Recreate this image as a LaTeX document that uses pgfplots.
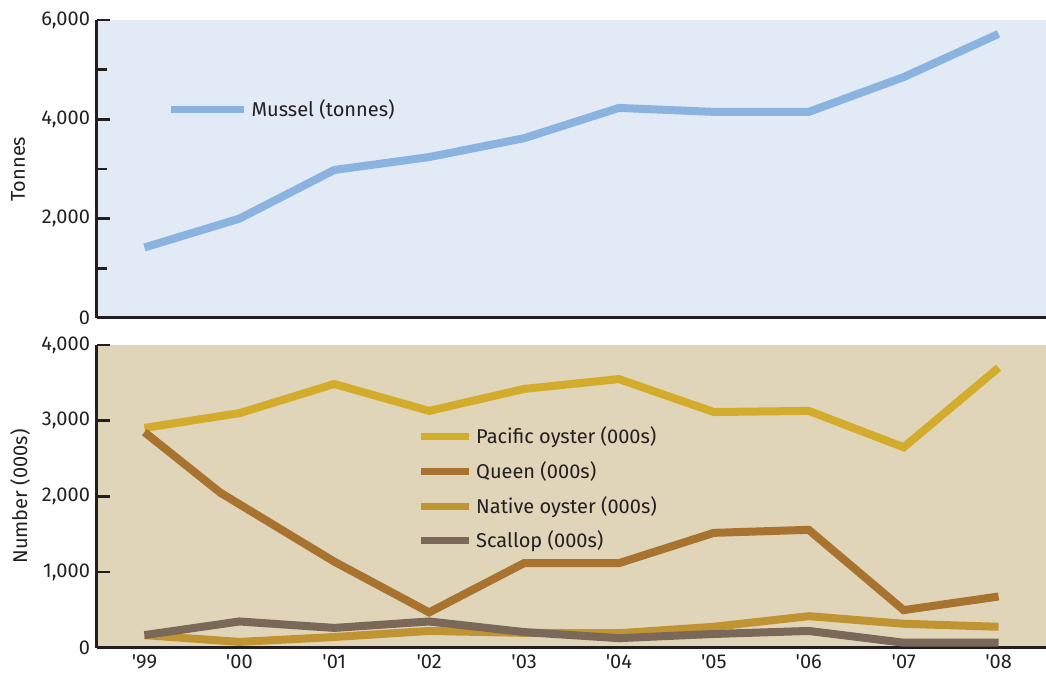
\documentclass[border=0pt]{standalone}
\usepackage{pgfplots}
\pgfplotsset{compat=1.18}
\usepackage{fontspec}
\setmainfont{Fira Sans}
\definecolor{topbg}{HTML}{E2EAF5}
\definecolor{botbg}{HTML}{E0D4B9}
\definecolor{mussel}{HTML}{8AB3E0}
\definecolor{pacific}{HTML}{D4AC2C}
\definecolor{queen}{HTML}{A8732F}
\definecolor{native}{HTML}{C19433}
\definecolor{scallop}{HTML}{7A6858}
\definecolor{ink}{HTML}{231F20}
\begin{document}
\begin{tikzpicture}
\pgfplotsset{
  common/.style={
    scale only axis, width=474.5pt,
    xmin=-0.5, xmax=9.5,
    axis x line=bottom, axis y line=left,
    axis line style={-, line width=1.5pt, ink},
    tick style={line width=1.25pt, ink},
    tick align=inside,
    every tick label/.append style={font=\fontsize{10}{12}\selectfont, text=ink},
    label style={font=\fontsize{10}{12}\selectfont, text=ink},
    /pgf/number format/assume math mode=true,
    /pgf/number format/1000 sep={,},
    minor xtick={0.5,1.5,...,8.5},
    minor tick length=5pt,
    clip=false,
    legend cell align=left,
    legend style={draw=none, fill=none, inner sep=0pt, font=\fontsize{10}{12}\selectfont, text=ink},
  },
  ln/.style={line width=4pt, line join=miter, line cap=butt, no markers},
}
\begin{axis}[common,
  name=top, at={(0,165pt)}, anchor=south west,
  height=149pt,
  ymin=0, ymax=6000,
  ytick={0,2000,4000,6000},
  minor ytick={1000,3000,5000},
  major tick length=6.5pt,
  xtick=\empty,
  axis background/.style={fill=topbg},
  ylabel={Tonnes},
  ylabel style={at={(axis description cs:-0.0832,0.5)}, anchor=center},
  legend style={at={(0.074,0.698)}, anchor=west},
  legend image code/.code={\draw[line width=3.5pt] (0pt,0pt) -- (36.5pt,0pt);},
]
\addplot[ln, mussel] coordinates {(0,1420) (1,2000) (2,2980) (3,3240) (4,3620) (5,4230) (6,4150) (7,4150) (8,4850) (9,5720)};
\addlegendentry{Mussel (tonnes)}
\end{axis}
\begin{axis}[common,
  name=bot, at={(0,0)}, anchor=south west,
  height=151.5pt,
  ymin=0, ymax=4000,
  ytick={0,1000,2000,3000,4000},
  major tick length=6.5pt,
  xtick={0,...,9},
  xticklabels={\textquotesingle99,\textquotesingle00,\textquotesingle01,\textquotesingle02,\textquotesingle03,\textquotesingle04,\textquotesingle05,\textquotesingle06,\textquotesingle07,\textquotesingle08},
  x tick style={draw=none},
  axis background/.style={fill=botbg},
  ylabel={Number (000s)},
  ylabel style={at={(axis description cs:-0.0811,0.5)}, anchor=center},
  legend style={at={(0.337,0.526)}, anchor=west, row sep=3.5pt},
  legend image code/.code={\draw[line width=3.5pt] (0pt,0pt) -- (24pt,0pt);},
]
\addplot[ln, pacific] coordinates {(0,2905) (1,3100) (2,3485) (3,3130) (4,3420) (5,3550) (6,3115) (7,3130) (8,2650) (9,3700)};
\addlegendentry{Pacific oyster (000s)}
\addplot[ln, queen] coordinates {(0,2850) (0.8,2050) (2,1140) (3,470) (4,1120) (5,1120) (6,1520) (7,1560) (8,500) (9,680)};
\addlegendentry{Queen (000s)}
\addplot[ln, native] coordinates {(0,170) (1,80) (2,145) (3,225) (4,200) (5,195) (6,280) (7,420) (8,320) (9,280)};
\addlegendentry{Native oyster (000s)}
\addplot[ln, scallop] coordinates {(0,170) (1,350) (2,265) (3,350) (4,210) (5,130) (6,185) (7,225) (8,70) (9,70)};
\addlegendentry{Scallop (000s)}
\end{axis}
\pgfresetboundingbox
\path (-48.5pt,-18pt) rectangle (474.5pt,324pt);
\end{tikzpicture}
\end{document}
